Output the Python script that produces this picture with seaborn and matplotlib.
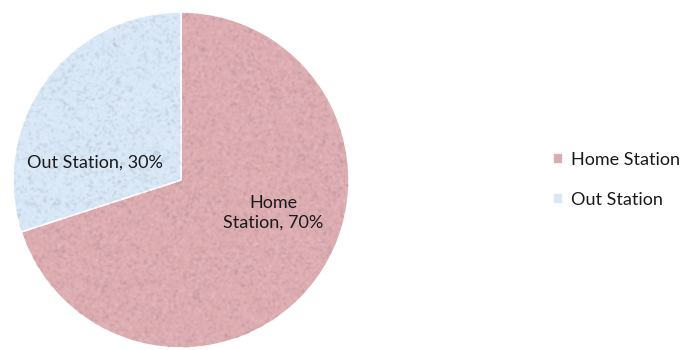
import numpy as np
import matplotlib
matplotlib.use("Agg")
import matplotlib.pyplot as plt
import seaborn as sns

categories = ["Home Station", "Out Station"]
shares = [70, 30]
colors = ["#DDACB1", "#D9E8F7"]

sns.set_theme(style="white")
plt.rcParams["font.family"] = ["Lato", "DejaVu Sans"]

fig = plt.figure(figsize=(6.83, 3.5), dpi=100)
fig.patch.set_facecolor("white")

cx, cy, r = 181, 180, 168
W, H = 683, 350
ax = fig.add_axes([(cx - r) / W, (H - cy - r) / H, 2 * r / W, 2 * r / H])

wedges, _ = ax.pie(shares, colors=colors, startangle=90, counterclock=False,
                   radius=1.0, wedgeprops=dict(edgecolor="white", linewidth=1.2))
ax.set_aspect("equal")
ax.axis("off")

# fine speckled texture inside each slice: light and dark flecks
rng = np.random.default_rng(7)
n = 340
grain = rng.normal(0, 1, (n, n))
pad = np.pad(grain, 1, mode="edge")
grain = sum(pad[i:i + n, j:j + n] for i in range(3) for j in range(3)) / 9.0
grain = grain / grain.std()
tex = np.zeros((n, n, 4))
dark = grain > 0
tex[..., :3] = np.where(dark[..., None], 0.3, 1.0)
tex[..., 3] = np.clip(np.abs(grain) * 0.055, 0, 0.2)
for w in wedges:
    im = ax.imshow(tex, extent=[-1, 1, -1, 1], interpolation="bilinear", zorder=2)
    im.set_clip_path(w)
ax.set_xlim(-1, 1)
ax.set_ylim(-1, 1)

label_pos = {"Home Station": (0.548, -0.196), "Out Station": (-0.512, 0.101)}
label_text = {"Home Station": "Home\nStation, {}%", "Out Station": "Out Station, {}%"}
for cat, val in zip(categories, shares):
    x, y = label_pos[cat]
    ax.text(x, y, label_text[cat].format(val), ha="center", va="center",
            fontsize=13, color="#1a1a1a", linespacing=1.25, zorder=3)

fig.legend(wedges, categories, loc="center left",
           bbox_to_anchor=(537 / W, (H - 180) / H), frameon=False,
           fontsize=13, handlelength=0.55, handleheight=0.55, handletextpad=0.45,
           labelspacing=1.3, labelcolor="#1a1a1a")

fig.savefig("out.png", dpi=100, facecolor="white")
